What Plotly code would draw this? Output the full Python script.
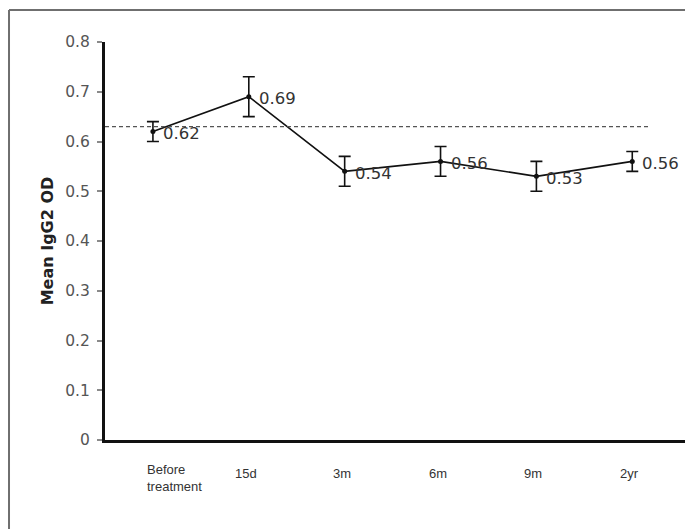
import plotly.graph_objects as go

# Mean IgG2 optical density at each follow-up time point
timepoints = ["Before treatment", "15d", "3m", "6m", "9m", "2yr"]
tick_text = ["Before<br>treatment", "15d", "3m", "6m", "9m", "2yr"]
mean_od = [0.62, 0.69, 0.54, 0.56, 0.53, 0.56]
od_error = [0.02, 0.04, 0.03, 0.03, 0.03, 0.02]
reference_od = 0.63          # baseline reference level (dashed)
reference_end = 5.19         # where the dashed reference line stops (category units)
y_ticks = [0, 0.1, 0.2, 0.3, 0.4, 0.5, 0.6, 0.7, 0.8]
y_tick_text = ["0", "0.1", "0.2", "0.3", "0.4", "0.5", "0.6", "0.7", "0.8"]

fig = go.Figure()

fig.add_trace(go.Scatter(
    x=timepoints,
    y=mean_od,
    mode="lines+markers",
    line=dict(color="#111111", width=1.6),
    marker=dict(color="#111111", size=5),
    error_y=dict(type="data", array=od_error, visible=True,
                 color="#111111", thickness=1.6, width=6),
    showlegend=False,
    hoverinfo="x+y",
))

# dashed reference level
fig.add_shape(type="line", xref="x", yref="y",
              x0=-0.5, x1=reference_end, y0=reference_od, y1=reference_od,
              line=dict(color="#555555", width=1.2, dash="4px,3px"))

# value labels next to each point
for t, v in zip(timepoints, mean_od):
    fig.add_annotation(x=t, y=v, xref="x", yref="y", text=f"{v:.2f}",
                       showarrow=False, xanchor="left", yanchor="middle",
                       xshift=8, yshift=-2,
                       font=dict(family="DejaVu Sans", size=16.5, color="#333333"))

# category labels under the axis
for t, label in zip(timepoints, tick_text):
    multi = "<br>" in label
    fig.add_annotation(x=t, y=0, xref="x", yref="y", text=label,
                       showarrow=False,
                       xanchor="left" if multi else "center",
                       align="left",
                       yanchor="middle",
                       xshift=-8 if multi else -3,
                       yshift=-38 if multi else -33,
                       font=dict(family="Liberation Sans Narrow, Liberation Sans, Arial",
                                 size=13, color="#333333"))

# outer frame of the figure
fig.add_shape(type="line", xref="paper", yref="paper",
              x0=-0.1655, x1=-0.1655, y0=1.0804, y1=-0.23,
              line=dict(color="#6f6f6f", width=2))
fig.add_shape(type="line", xref="paper", yref="paper",
              x0=-0.1655, x1=1.0, y0=1.0804, y1=1.0804,
              line=dict(color="#6f6f6f", width=2))

fig.update_layout(
    width=685, height=529,
    margin=dict(l=105, r=0, t=42, b=89, pad=0),
    paper_bgcolor="white",
    plot_bgcolor="white",
    showlegend=False,
)

fig.update_xaxes(
    type="category",
    range=[-0.5, 5.55],
    showticklabels=False,
    ticks="",
    showgrid=False,
    zeroline=False,
    showline=True, linecolor="#111111", linewidth=3,
)

fig.update_yaxes(
    range=[0, 0.8],
    tickvals=y_ticks, ticktext=y_tick_text,
    ticks="outside", ticklen=5, tickwidth=2, tickcolor="#8a8a8a",
    ticklabelstandoff=4,
    tickfont=dict(family="DejaVu Sans", size=15.5, color="#555555"),
    showgrid=False,
    zeroline=False,
    showline=True, linecolor="#111111", linewidth=3,
    title=dict(text="<b>Mean IgG2 OD</b>", standoff=8,
               font=dict(family="DejaVu Sans", size=16, color="#222222")),
)

fig.write_html("out.html")
